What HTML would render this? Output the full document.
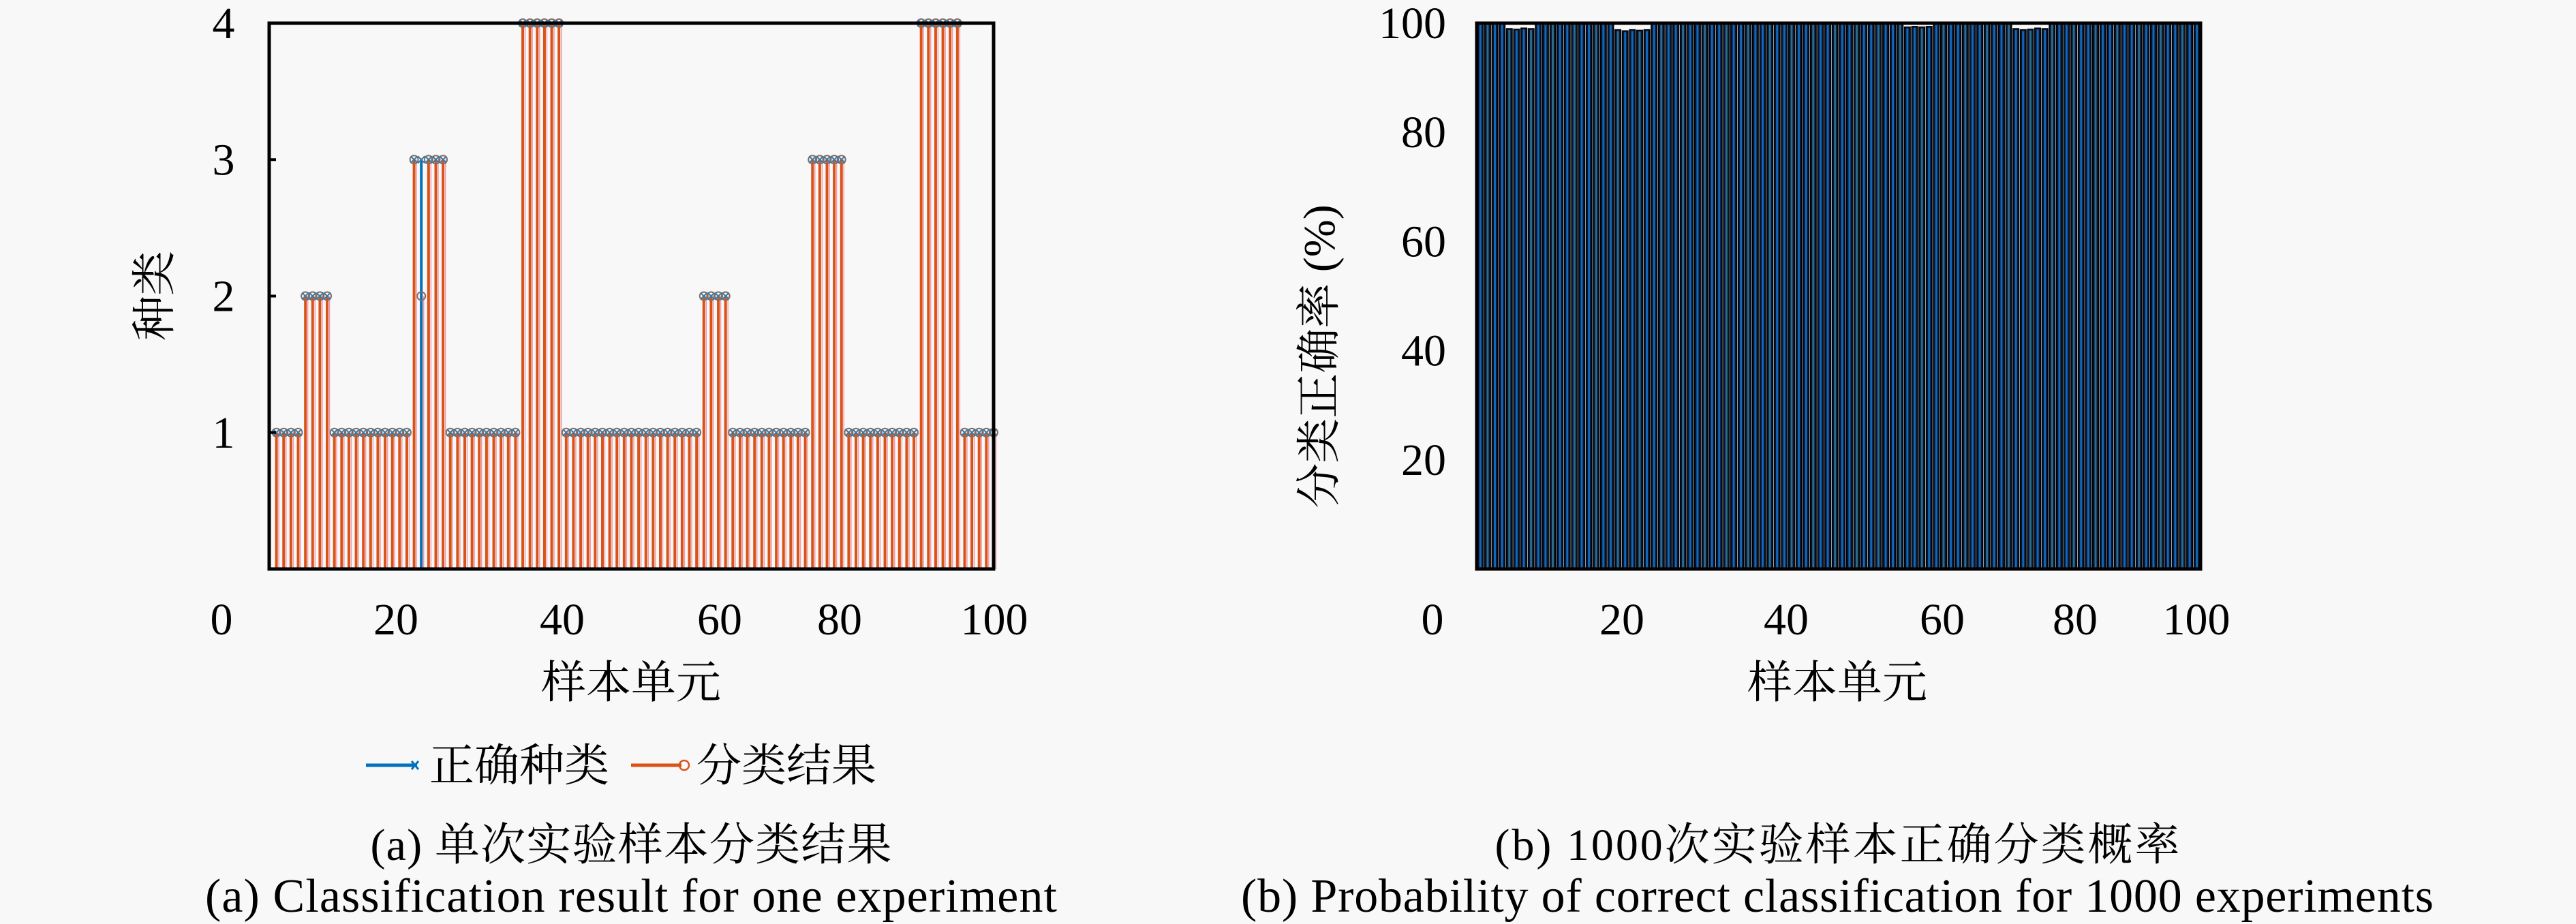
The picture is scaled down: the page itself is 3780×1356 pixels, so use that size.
<!DOCTYPE html>
<html><head><meta charset="utf-8">
<style>
html,body{margin:0;padding:0;background:#f8f8f8;}
svg{display:block;}
text{font-family:"Liberation Serif","Noto Serif CJK SC",serif;fill:#000;}
</style></head>
<body>
<svg id="fig" width="3780" height="1356" viewBox="0 0 3780 1356" xmlns="http://www.w3.org/2000/svg">
<g id="left"></g>
<g id="right"></g>
</svg>
<script>
// ---- Data: chart (a) ----
const sampleIdx = Array.from({length:100},(_,i)=>i+1);
const trueClass = [1,1,1,1,2,2,2,2,1,1,1,1,1,1,1,1,1,1,1,3,3,3,3,3,1,1,1,1,1,1,1,1,1,1,4,4,4,4,4,4,
1,1,1,1,1,1,1,1,1,1,1,1,1,1,1,1,1,1,1,2,2,2,2,1,1,1,1,1,1,1,1,1,1,1,3,3,3,3,3,1,
1,1,1,1,1,1,1,1,1,4,4,4,4,4,4,1,1,1,1,1];
const predClass = [1,1,1,1,2,2,2,2,1,1,1,1,1,1,1,1,1,1,1,3,2,3,3,3,1,1,1,1,1,1,1,1,1,1,4,4,4,4,4,4,
1,1,1,1,1,1,1,1,1,1,1,1,1,1,1,1,1,1,1,2,2,2,2,1,1,1,1,1,1,1,1,1,1,1,3,3,3,3,3,1,
1,1,1,1,1,1,1,1,1,4,4,4,4,4,4,1,1,1,1,1];
const yTicksA = [1,2,3,4];
const xTicks = [0,20,40,60,80,100];
// ---- Data: chart (b) ----
const probCorrect = [100,100,100,100,99.0,98.9,99.1,99.0,100,100,100,100,100,100,100,100,100,100,100,98.8,
98.6,98.8,98.7,98.8,100,100,100,100,100,100,100,100,100,100,100,100,100,100,100,100,
100,100,100,100,100,100,100,100,100,100,100,100,100,100,100,100,100,100,100,99.3,
99.4,99.3,99.4,100,100,100,100,100,100,100,100,100,100,100,99.0,98.8,98.9,99.1,99.0,100,
100,100,100,100,100,100,100,100,100,100,100,100,100,100,100,100,100,100,100,100];
const yTicksB = [20,40,60,80,100];

const NS="http://www.w3.org/2000/svg";
function mk(parent,tag,attrs,txt){const e=document.createElementNS(NS,tag);for(const k in attrs)e.setAttribute(k,attrs[k]);if(txt!==undefined)e.textContent=txt;parent.appendChild(e);return e;}

// ---------- Chart A ----------
const L=document.getElementById('left');
const ax={x0:395,x1:1458,y0:835,y1:34};
const xA=v=>ax.x0+(v/100)*(ax.x1-ax.x0);
const yA=v=>ax.y0-(v/4)*(ax.y0-ax.y1);
for(let i=0;i<sampleIdx.length;i++){
  const x=xA(sampleIdx[i]);
  const s=mk(L,'line',{x1:x,x2:x,y1:yA(0),y2:yA(predClass[i]),stroke:'#D95319','stroke-width':4});
  
  
  const r=mk(L,'line',{x1:x+3.5,x2:x+3.5,y1:yA(0),y2:yA(predClass[i]),stroke:'#e8607a','stroke-width':1.5,opacity:0.6});
  
  
  if(trueClass[i]!==predClass[i]){
    const b=mk(L,'line',{x1:x,x2:x,y1:yA(0),y2:yA(trueClass[i]),stroke:'#0072BD','stroke-width':4});
    
    
  }
}
for(let i=0;i<sampleIdx.length;i++){
  const x=xA(sampleIdx[i]);
  const c=mk(L,'circle',{cx:x,cy:yA(predClass[i]),r:6,fill:'none',stroke:'#8a6a60','stroke-width':2});
  
  
  const t=mk(L,'path',{d:`M${x-5},${yA(trueClass[i])-5}L${x+5},${yA(trueClass[i])+5}M${x-5},${yA(trueClass[i])+5}L${x+5},${yA(trueClass[i])-5}`,stroke:'#3a7aa0','stroke-width':2});
  
  
}
const frA=mk(L,'path',{d:`M${ax.x0},${ax.y1}H${ax.x1}V${ax.y0}H${ax.x0}Z`,fill:'none',stroke:'#000','stroke-width':5});


yTicksA.forEach(v=>{
  const tk=mk(L,'line',{x1:ax.x0,x2:ax.x0+10,y1:yA(v),y2:yA(v),stroke:'#000','stroke-width':4});
  
  
  const tl=mk(L,'text',{x:328,y:yA(v)+22,'font-size':66,'text-anchor':'middle'},String(v));
  
  
});
const xLabelPosA=[325,581,825,1056,1232,1459];
xTicks.forEach((v,i)=>{
  const tl=mk(L,'text',{x:xLabelPosA[i],y:931,'font-size':66,'text-anchor':'middle'},String(v));
  
  
});
// ---------- Chart B ----------
const R=document.getElementById('right');
const bx={x0:2167,x1:3229,y0:835,y1:34};
const slot=(bx.x1-bx.x0)/100;
const xB=v=>bx.x0+((v-0.5)/100)*(bx.x1-bx.x0);
const yB=v=>bx.y0-(v/100)*(bx.y0-bx.y1);
probCorrect.forEach((v,i)=>{
  const cx=xB(sampleIdx[i]);
  const b=mk(R,'rect',{x:cx-slot*0.4,y:yB(v),width:slot*0.8,height:yB(0)-yB(v),fill:'#081634',stroke:'#000','stroke-width':1.5});
  
  
  const h=mk(R,'line',{x1:cx,x2:cx,y1:yB(v)+2,y2:yB(0),stroke:i%3===1?'#2a6c8a':'#1268b8','stroke-width':3});
  
  
});
const frB=mk(R,'path',{d:`M${bx.x0},${bx.y1}H${bx.x1}V${bx.y0}H${bx.x0}Z`,fill:'none',stroke:'#000','stroke-width':5});


yTicksB.forEach(v=>{
  const tl=mk(R,'text',{x:2122,y:yB(v)+22,'font-size':66,'text-anchor':'end'},String(v));
  
  
});
const xLabelPosB=[2102,2380,2621,2850,3045,3223];
xTicks.forEach((v,i)=>{
  const tl=mk(R,'text',{x:xLabelPosB[i],y:931,'font-size':66,'text-anchor':'middle'},String(v));
  
  
});
</script>
<svg width="3780" height="1356" style="position:absolute;left:0;top:0" xmlns="http://www.w3.org/2000/svg">
<text x="234" y="434" font-size="66" text-anchor="middle" dominant-baseline="middle" transform="rotate(-90 234 434)">种类</text>
<text x="926" y="1024" font-size="66" text-anchor="middle">样本单元</text>
<g>
<line x1="537" y1="1123" x2="612" y2="1123" stroke="#0072BD" stroke-width="5"/>
<path d="M604,1117L614,1129M604,1129L614,1117" stroke="#0072BD" stroke-width="3"/>
<text x="630" y="1146" font-size="66">正确种类</text>
<line x1="926" y1="1123" x2="1000" y2="1123" stroke="#D95319" stroke-width="5"/>
<circle cx="1004" cy="1123" r="7" fill="none" stroke="#D95319" stroke-width="2.5"/>
<text x="1022" y="1146" font-size="66">分类结果</text>
</g>
<text x="926" y="1262" font-size="66" text-anchor="middle" textLength="765">(a) 单次实验样本分类结果</text>
<text x="926" y="1338" font-size="70" text-anchor="middle" textLength="1250">(a) Classification result for one experiment</text>
<text x="1943" y="523" font-size="66" text-anchor="middle" dominant-baseline="middle" transform="rotate(-90 1943 523)">分类正确率 (%)</text>
<text x="2696" y="1024" font-size="66" text-anchor="middle">样本单元</text>
<text x="2696" y="1262" font-size="66" text-anchor="middle" textLength="1005">(b) 1000次实验样本正确分类概率</text>
<text x="2696" y="1338" font-size="70" text-anchor="middle" textLength="1750">(b) Probability of correct classification for 1000 experiments</text>
</svg>
</body></html>
